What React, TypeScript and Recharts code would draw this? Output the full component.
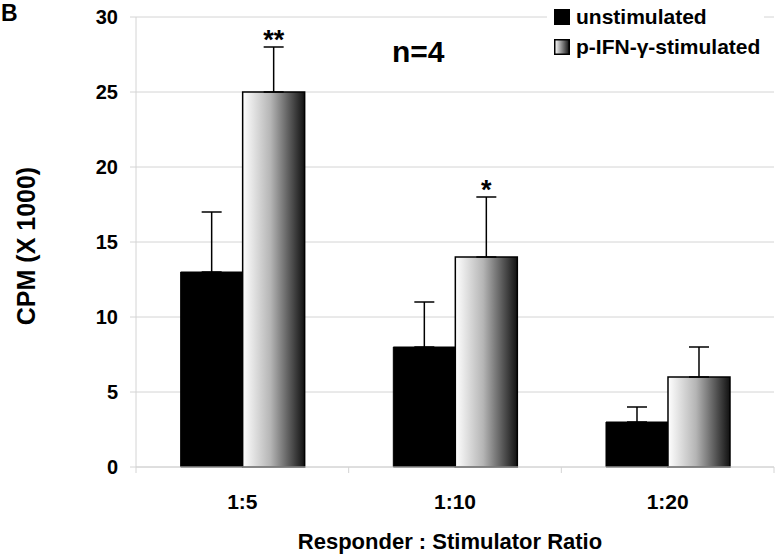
import React from "react";
import {
  BarChart,
  Bar,
  XAxis,
  YAxis,
  CartesianGrid,
  ErrorBar,
  LabelList,
} from "recharts";

const categories = ["1:5", "1:10", "1:20"];
const unstimulated = [13, 8, 3];
const stimulated = [25, 14, 6];
const unstimulatedErr = [4, 3, 1];
const stimulatedErr = [3, 4, 2];
const significance = ["**", "*", ""];
const yTicks = [0, 5, 10, 15, 20, 25, 30];

const W = 778;
const H = 555;
const TOP = 17;
const RIGHT = 4;
const Y_AXIS_W = 136;
const X_AXIS_H = 88;
const Y_MAX = 30;
const PX_PER_UNIT = (H - TOP - X_AXIS_H) / Y_MAX;
const BAND = (W - Y_AXIS_W - RIGHT) / categories.length;
const FONT = '"Liberation Sans", Arial, sans-serif';
const GRID = "#d4d4d4";

const data = categories.map((c, i) => ({
  name: c,
  unstim: unstimulated[i],
  stim: stimulated[i],
  unstimErr: [0, unstimulatedErr[i]],
  stimErr: [0, stimulatedErr[i]],
  sig: significance[i],
}));

// category label + small marks on the category boundaries
const XTick = ({ x, y, payload, index }: any) => {
  const half = payload && payload.offset ? payload.offset : BAND / 2;
  const isLast = index === categories.length - 1;
  return (
    <g>
      <line x1={x - half} x2={x - half} y1={y} y2={y + 6} stroke={GRID} />
      {isLast && (
        <line x1={x + half} x2={x + half} y1={y} y2={y + 6} stroke={GRID} />
      )}
      <text
        x={x}
        y={y + 42}
        textAnchor="middle"
        fontSize={21}
        fontWeight="bold"
        fontFamily={FONT}
        fill="#000"
      >
        {payload.value}
      </text>
    </g>
  );
};

const SigLabel = (props: any) => {
  const { x, y, width, value, index } = props;
  if (!value) return null;
  const top = Number(y) - stimulatedErr[index] * PX_PER_UNIT;
  return (
    <text
      x={Number(x) + Number(width) / 2}
      y={top + 2}
      textAnchor="middle"
      fontSize={27}
      fontWeight="bold"
      fontFamily={FONT}
      fill="#000"
    >
      {value}
    </text>
  );
};

const YLabel = () => (
  <text
    x={26}
    y={246}
    transform="rotate(-90 26 246)"
    textAnchor="middle"
    dominantBaseline="central"
    fontSize={25}
    fontWeight="bold"
    fontFamily={FONT}
    fill="#000"
  >
    CPM (X 1000)
  </text>
);

export default function App() {
  return (
    <div
      style={{
        position: "absolute",
        left: 0,
        top: 0,
        width: W,
        height: H,
        background: "#fff",
        fontFamily: FONT,
      }}
    >
      <BarChart
        width={W}
        height={H}
        data={data}
        margin={{ top: TOP, right: RIGHT, left: 0, bottom: 0 }}
        barCategoryGap="21%"
        barGap={0}
        style={{ position: "absolute", left: 0, top: 0 }}
      >
        <defs>
          <linearGradient id="stimGrad" x1="0" y1="0" x2="1" y2="0">
            <stop offset="0%" stopColor="#ffffff" />
            <stop offset="45%" stopColor="#b5b5b5" />
            <stop offset="100%" stopColor="#111111" />
          </linearGradient>
        </defs>
        <CartesianGrid horizontal vertical={false} stroke={GRID} />
        <XAxis
          dataKey="name"
          height={X_AXIS_H}
          tickSize={0}
          tickMargin={0}
          tickLine={false}
          interval={0}
          axisLine={{ stroke: GRID }}
          tick={<XTick />}
          label={{
            value: "Responder : Stimulator Ratio",
            position: "insideBottom",
            offset: 6,
            fontSize: 22,
            fontWeight: "bold",
            fontFamily: FONT,
            fill: "#000",
            dx: -5,
          }}
        />
        <YAxis
          width={Y_AXIS_W}
          domain={[0, Y_MAX]}
          ticks={yTicks}
          interval={0}
          tickSize={6}
          tickMargin={12}
          axisLine={{ stroke: GRID }}
          tickLine={{ stroke: GRID }}
          tick={{
            fontSize: 20,
            fontWeight: "bold",
            fontFamily: FONT,
            fill: "#000",
          }}
          label={<YLabel />}
        />
        <Bar
          dataKey="unstim"
          fill="#000"
          stroke="#000"
          strokeWidth={1}
          isAnimationActive={false}
        >
          <ErrorBar
            dataKey="unstimErr"
            direction="y"
            width={10}
            stroke="#000"
            strokeWidth={1.5}
          />
        </Bar>
        <Bar
          dataKey="stim"
          fill="url(#stimGrad)"
          stroke="#000"
          strokeWidth={1.5}
          isAnimationActive={false}
        >
          <ErrorBar
            dataKey="stimErr"
            direction="y"
            width={10}
            stroke="#000"
            strokeWidth={1.5}
          />
          <LabelList dataKey="sig" content={SigLabel} />
        </Bar>
      </BarChart>

      <div
        style={{
          position: "absolute",
          left: 1,
          top: 0,
          fontSize: 23,
          fontWeight: "bold",
        }}
      >
        B
      </div>
      <div
        style={{
          position: "absolute",
          left: 392,
          top: 35,
          fontSize: 30,
          fontWeight: "bold",
        }}
      >
        n=4
      </div>

      {/* legend, white box hides the top gridline */}
      <div
        style={{
          position: "absolute",
          left: 547,
          top: 2,
          paddingLeft: 7,
          paddingRight: 4,
          background: "#fff",
          fontSize: 21,
          fontWeight: "bold",
          lineHeight: "30px",
        }}
      >
        <div style={{ display: "flex", alignItems: "center", gap: 6 }}>
          <svg width={16} height={16}>
            <rect x={0} y={0} width={16} height={16} fill="#000" />
          </svg>
          <span>unstimulated</span>
        </div>
        <div style={{ display: "flex", alignItems: "center", gap: 6 }}>
          <svg width={16} height={16}>
            <defs>
              <linearGradient id="legGrad" x1="0" y1="0" x2="1" y2="0">
                <stop offset="0%" stopColor="#ffffff" />
                <stop offset="100%" stopColor="#111111" />
              </linearGradient>
            </defs>
            <rect
              x={0.75}
              y={0.75}
              width={14.5}
              height={14.5}
              fill="url(#legGrad)"
              stroke="#000"
              strokeWidth={1.5}
            />
          </svg>
          <span>p-IFN-γ-stimulated</span>
        </div>
      </div>
    </div>
  );
}
